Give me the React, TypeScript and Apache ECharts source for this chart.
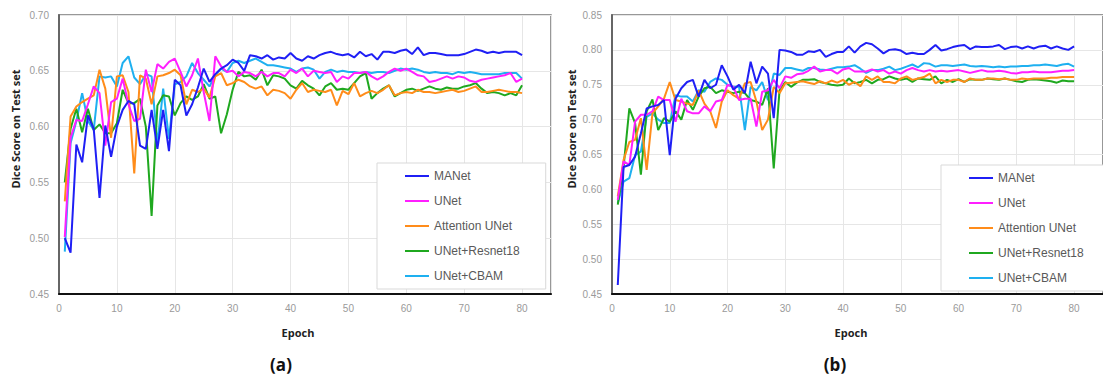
import React, { useEffect, useRef } from "react";
import * as echarts from "echarts";

const seriesNames = ["MANet", "UNet", "Attention UNet", "UNet+Resnet18", "UNet+CBAM"];
const seriesColors = ["#1f1ff5", "#ff1fff", "#ff8c1a", "#1fa81f", "#1eb0f0"];
const epochs = Array.from({ length: 80 }, (_, i) => i + 1);
const xTicks = [0, 10, 20, 30, 40, 50, 60, 70, 80];
const yTicksA = [0.45, 0.5, 0.55, 0.6, 0.65, 0.7];
const yTicksB = [0.45, 0.5, 0.55, 0.6, 0.65, 0.7, 0.75, 0.8, 0.85];

// (a)
const aMANet = [0.500,0.487,0.584,0.568,0.610,0.598,0.536,0.601,0.573,0.600,0.615,0.623,0.620,0.583,0.580,0.615,0.580,0.615,0.578,0.642,0.637,0.610,0.620,0.635,0.652,0.640,0.647,0.652,0.655,0.660,
0.657,0.650,0.664,0.663,0.661,0.664,0.660,0.662,0.661,0.666,0.661,0.659,0.663,0.661,0.664,0.666,0.667,0.665,0.664,0.665,0.662,0.667,0.663,0.665,0.660,0.667,0.667,0.666,0.668,0.669,0.665,0.671,0.664,0.666,0.666,0.665,0.664,0.664,0.664,0.665,0.667,0.669,0.668,0.666,0.667,0.666,0.667,0.667,0.667,0.664];
const aUNet = [0.501,0.590,0.606,0.605,0.620,0.636,0.630,0.583,0.622,0.625,0.643,0.620,0.605,0.607,0.651,0.631,0.656,0.652,0.658,0.661,0.649,0.636,0.646,0.661,0.631,0.605,0.663,0.654,0.649,0.650,
0.645,0.649,0.648,0.645,0.649,0.645,0.648,0.648,0.645,0.651,0.648,0.652,0.645,0.650,0.649,0.648,0.649,0.640,0.645,0.643,0.648,0.648,0.649,0.645,0.642,0.645,0.649,0.652,0.650,0.652,0.649,0.646,0.645,0.640,0.641,0.643,0.645,0.643,0.645,0.644,0.641,0.640,0.642,0.643,0.644,0.645,0.646,0.648,0.640,0.643];
const aAttUNet = [0.533,0.609,0.618,0.622,0.625,0.628,0.651,0.634,0.590,0.645,0.646,0.631,0.558,0.646,0.643,0.620,0.645,0.646,0.648,0.651,0.646,0.620,0.633,0.631,0.634,0.626,0.645,0.648,0.637,0.639,
0.642,0.640,0.636,0.634,0.636,0.628,0.633,0.632,0.630,0.625,0.633,0.639,0.631,0.633,0.632,0.631,0.633,0.619,0.632,0.629,0.639,0.627,0.630,0.632,0.630,0.633,0.637,0.628,0.630,0.631,0.630,0.633,0.631,0.631,0.630,0.631,0.632,0.633,0.631,0.632,0.634,0.636,0.631,0.631,0.632,0.633,0.632,0.631,0.631,0.630];
const aResnet = [0.550,0.598,0.616,0.595,0.616,0.597,0.602,0.594,0.594,0.603,0.633,0.621,0.621,0.625,0.600,0.520,0.619,0.628,0.627,0.610,0.621,0.627,0.624,0.627,0.638,0.625,0.627,0.594,0.611,0.633,
0.649,0.645,0.646,0.642,0.651,0.637,0.646,0.645,0.643,0.637,0.634,0.641,0.637,0.634,0.628,0.636,0.639,0.633,0.634,0.633,0.639,0.645,0.648,0.625,0.630,0.634,0.637,0.627,0.630,0.633,0.634,0.632,0.634,0.636,0.634,0.633,0.635,0.634,0.634,0.636,0.637,0.639,0.634,0.630,0.631,0.630,0.628,0.630,0.628,0.637];
const aCBAM = [0.488,0.585,0.605,0.630,0.605,0.597,0.645,0.644,0.645,0.636,0.657,0.663,0.644,0.638,0.647,0.645,0.584,0.634,0.589,0.638,0.640,0.645,0.657,0.648,0.642,0.636,0.646,0.652,0.649,0.657,
0.659,0.657,0.659,0.661,0.658,0.655,0.655,0.654,0.653,0.652,0.649,0.652,0.653,0.651,0.643,0.649,0.651,0.649,0.650,0.649,0.649,0.648,0.649,0.648,0.649,0.649,0.648,0.650,0.652,0.651,0.652,0.651,0.649,0.648,0.649,0.648,0.648,0.647,0.649,0.648,0.649,0.648,0.647,0.647,0.647,0.647,0.648,0.648,0.648,0.643];

// (b)
const bMANet = [0.463,0.632,0.635,0.647,0.680,0.716,0.719,0.721,0.728,0.649,0.730,0.745,0.754,0.757,0.733,0.757,0.745,0.750,0.778,0.762,0.743,0.750,0.738,0.783,0.752,0.776,0.766,0.702,0.800,0.799,
0.797,0.793,0.793,0.798,0.797,0.800,0.790,0.794,0.797,0.797,0.805,0.796,0.805,0.810,0.808,0.802,0.795,0.800,0.801,0.799,0.794,0.796,0.794,0.794,0.800,0.807,0.799,0.801,0.804,0.806,0.807,0.801,0.805,0.804,0.804,0.805,0.807,0.801,0.804,0.805,0.802,0.805,0.802,0.805,0.806,0.802,0.805,0.802,0.800,0.805];
const bUNet = [0.585,0.640,0.635,0.697,0.707,0.707,0.712,0.733,0.728,0.728,0.697,0.730,0.712,0.709,0.709,0.719,0.712,0.726,0.728,0.750,0.747,0.728,0.730,0.730,0.690,0.740,0.742,0.757,0.745,0.762,
0.760,0.765,0.766,0.770,0.776,0.769,0.771,0.771,0.766,0.772,0.774,0.769,0.769,0.769,0.772,0.769,0.771,0.766,0.769,0.766,0.771,0.774,0.771,0.769,0.771,0.769,0.770,0.769,0.770,0.771,0.769,0.767,0.769,0.771,0.769,0.769,0.770,0.769,0.767,0.766,0.768,0.768,0.769,0.768,0.768,0.768,0.769,0.770,0.770,0.771];
const bAttUNet = [0.590,0.642,0.668,0.671,0.702,0.628,0.709,0.719,0.730,0.754,0.728,0.726,0.723,0.721,0.742,0.723,0.712,0.688,0.726,0.742,0.735,0.730,0.752,0.754,0.726,0.685,0.700,0.747,0.738,0.752,
0.753,0.754,0.755,0.753,0.751,0.755,0.752,0.756,0.753,0.757,0.750,0.754,0.748,0.762,0.757,0.762,0.754,0.754,0.752,0.759,0.762,0.757,0.759,0.761,0.766,0.752,0.757,0.754,0.757,0.757,0.754,0.759,0.757,0.757,0.759,0.759,0.758,0.759,0.757,0.757,0.759,0.758,0.759,0.759,0.759,0.760,0.760,0.761,0.761,0.761];
const bResnet = [0.578,0.632,0.716,0.695,0.621,0.712,0.729,0.685,0.702,0.697,0.712,0.700,0.728,0.714,0.733,0.745,0.747,0.738,0.742,0.740,0.738,0.740,0.738,0.728,0.726,0.721,0.745,0.630,0.742,0.754,
0.747,0.753,0.757,0.757,0.758,0.754,0.752,0.750,0.749,0.750,0.759,0.752,0.754,0.757,0.752,0.757,0.758,0.762,0.759,0.757,0.759,0.754,0.759,0.758,0.757,0.762,0.752,0.757,0.754,0.758,0.754,0.758,0.757,0.757,0.759,0.758,0.757,0.759,0.757,0.755,0.754,0.757,0.758,0.757,0.756,0.755,0.753,0.756,0.755,0.755];
const bCBAM = [0.580,0.611,0.616,0.649,0.654,0.704,0.709,0.700,0.695,0.695,0.735,0.733,0.733,0.726,0.742,0.740,0.754,0.759,0.757,0.750,0.747,0.747,0.685,0.747,0.742,0.754,0.728,0.766,0.764,0.774,
0.774,0.772,0.770,0.774,0.774,0.772,0.771,0.773,0.775,0.775,0.776,0.778,0.773,0.767,0.771,0.771,0.773,0.776,0.771,0.773,0.776,0.779,0.775,0.781,0.780,0.776,0.778,0.778,0.777,0.778,0.779,0.777,0.776,0.777,0.776,0.775,0.776,0.775,0.776,0.776,0.777,0.777,0.778,0.778,0.779,0.778,0.777,0.779,0.780,0.776];

const dataA = [aMANet, aUNet, aAttUNet, aResnet, aCBAM];
const dataB = [bMANet, bUNet, bAttUNet, bResnet, bCBAM];

const labelFont = "'Liberation Sans', Arial, sans-serif";

function xAxisFor(gridIndex: number) {
  return {
    type: "value",
    gridIndex,
    min: xTicks[0],
    max: 85,
    interval: xTicks[1] - xTicks[0],
    axisLine: { show: true, onZero: false, lineStyle: { color: "#111", width: 2 } },
    axisTick: { show: false },
    axisLabel: {
      color: "#9a9a9a",
      fontSize: 10,
      fontFamily: labelFont,
      margin: 9,
      showMaxLabel: false,
      formatter: (v: number) => (xTicks.includes(v) ? String(v) : ""),
    },
    splitLine: { show: true, lineStyle: { color: "#e6e6e6", width: 1 } },
  };
}

function yAxisFor(gridIndex: number, ticks: number[]) {
  return {
    type: "value",
    gridIndex,
    min: ticks[0],
    max: ticks[ticks.length - 1],
    interval: 0.05,
    axisLine: { show: true, onZero: false, lineStyle: { color: "#666", width: 2 } },
    axisTick: { show: false },
    axisLabel: {
      color: "#9a9a9a",
      fontSize: 10,
      fontFamily: labelFont,
      margin: 10,
      formatter: (v: number) => v.toFixed(2),
    },
    splitLine: { show: true, lineStyle: { color: "#e6e6e6", width: 1 } },
  };
}

function legendFor(left: number, top: number) {
  return {
    show: true,
    orient: "vertical",
    left,
    top,
    data: seriesNames,
    icon: "rect",
    itemWidth: 24,
    itemHeight: 2,
    itemGap: 11,
    padding: [6, 26, 6, 28],
    backgroundColor: "#fff",
    borderColor: "#d9d9d9",
    borderWidth: 1,
    borderRadius: 0,
    textStyle: { color: "#595959", fontSize: 12, fontFamily: labelFont, lineHeight: 14 },
  };
}

export default function App() {
  const ref = useRef<HTMLDivElement>(null);
  useEffect(() => {
    document.body.style.margin = "0";
    if (!ref.current) return;
    const chart = echarts.init(ref.current, null, { renderer: "svg" });
    const series: any[] = [];
    [dataA, dataB].forEach((set, gi) => {
      set.forEach((vals, si) => {
        series.push({
          name: seriesNames[si],
          type: "line",
          xAxisIndex: gi,
          yAxisIndex: gi,
          data: epochs.map((e, i) => [e, vals[i]]),
          showSymbol: false,
          symbol: "none",
          lineStyle: { width: 2, color: seriesColors[si] },
          itemStyle: { color: seriesColors[si] },
          z: 2 + (5 - si),
        });
      });
    });
    const boldTitle = {
      fontFamily: "'Open Sans', 'Liberation Sans', sans-serif",
      fontWeight: "bold",
      fill: "#222",
    };
    chart.setOption({
      animation: false,
      backgroundColor: "#fff",
      grid: [
        { left: 59, top: 15, width: 492, height: 279, show: true, borderColor: "#777", borderWidth: 1.5, backgroundColor: "transparent" },
        { left: 612, top: 15, width: 492, height: 279, show: true, borderColor: "#777", borderWidth: 1.5, backgroundColor: "transparent" },
      ],
      xAxis: [xAxisFor(0), xAxisFor(1)],
      yAxis: [yAxisFor(0, yTicksA), yAxisFor(1, yTicksB)],
      legend: [legendFor(377, 163), legendFor(941, 165)],
      series,
      graphic: [
        { type: "text", x: 15, y: 129, rotation: Math.PI / 2, style: { ...boldTitle, text: "Dice Score on Test set", fontSize: 11, align: "center", verticalAlign: "middle" } },
        { type: "text", x: 571, y: 129, rotation: Math.PI / 2, style: { ...boldTitle, text: "Dice Score on Test set", fontSize: 11, align: "center", verticalAlign: "middle" } },
        { type: "text", x: 298, y: 332, style: { ...boldTitle, text: "Epoch", fontSize: 11, align: "center", verticalAlign: "middle" } },
        { type: "text", x: 851, y: 332, style: { ...boldTitle, text: "Epoch", fontSize: 11, align: "center", verticalAlign: "middle" } },
        { type: "text", x: 281, y: 364, style: { ...boldTitle, text: "(a)", fontSize: 17, align: "center", verticalAlign: "middle", fill: "#111" } },
        { type: "text", x: 835, y: 364, style: { ...boldTitle, text: "(b)", fontSize: 17, align: "center", verticalAlign: "middle", fill: "#111" } },
      ],
    });
    return () => chart.dispose();
  }, []);
  return <div ref={ref} style={{ width: 1103, height: 376 }} />;
}
